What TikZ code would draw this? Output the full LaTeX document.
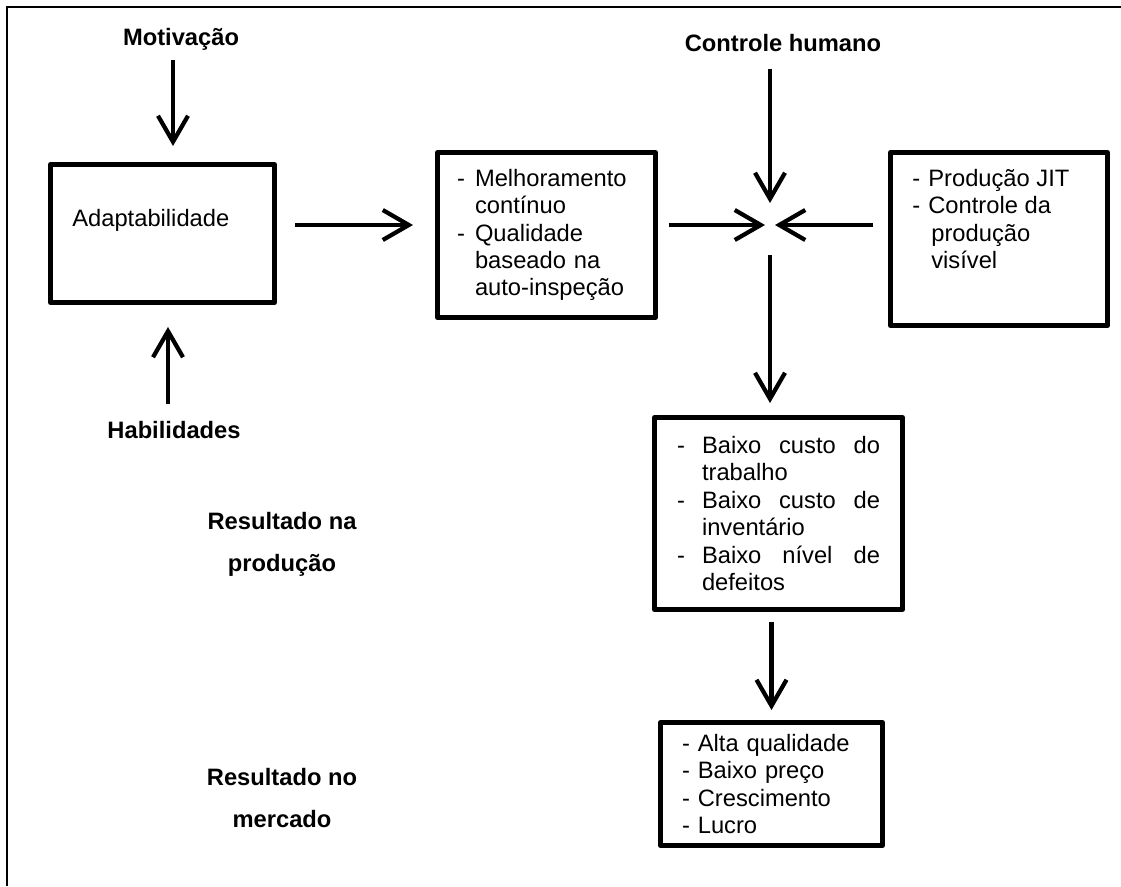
\documentclass[tikz,border=0pt]{standalone}
\usepackage{fontspec}
\setmainfont{Liberation Sans}
\usepackage{tikz}
\usetikzlibrary{arrows.meta,positioning,calc}

\begin{document}
\begin{tikzpicture}[x=0.02cm, y=-0.02cm,
        every node/.style={font=\fontsize{13.5}{15.6}\selectfont, inner sep=0pt},
        caixa/.style={draw, line width=0.1cm, line join=round, align=left},
        rotulo/.style={font=\fontsize{13.5}{15.6}\selectfont\bfseries, align=center},
        seta/.style={line width=0.085cm, -{Straight Barb[length=0.52cm,width=0.6cm]}}]

    \useasboundingbox (0,0) rectangle (1121,886);
    \draw[line width=0.05cm] (7,886) -- (7,7) -- (1121,7);

    \node [caixa] (adapt) at (162.5,233.5) [minimum width=4.48cm, minimum height=2.76cm] {};
    \node (adaptT) at (72,220) [anchor=west] {Adaptabilidade};

    \node [rotulo] (mot) at (181,39) {Motiva\c{c}\~ao};
    \node [rotulo] (hab) at (174,430) {Habilidades};
    \node [rotulo] (ctrl) at (783,43) {Controle humano};

    \node [caixa] (melhor) at (546.5,235) [minimum width=4.36cm, minimum height=3.3cm, text width=3.58cm]
        {\makebox[0.36cm][l]{-}Melhoramento\\
         \hspace*{0.36cm}cont\'inuo\\
         \makebox[0.36cm][l]{-}Qualidade\\
         \hspace*{0.36cm}baseado na\\
         \hspace*{0.36cm}auto-inspe\c{c}\~ao};

    \node [caixa] (jit) at (999,239) [minimum width=4.34cm, minimum height=3.46cm] {};
    \node (jitT) at (912,219) [anchor=west, align=left]
        {\makebox[0.32cm][l]{-}Produ\c{c}\~ao JIT\\
         \makebox[0.32cm][l]{-}Controle da\\
         \hspace*{0.38cm}produ\c{c}\~ao\\
         \hspace*{0.38cm}vis\'ivel};

    \coordinate (centro) at (770,225);

    \node [caixa] (prod) at (778.5,513.5) [minimum width=4.96cm, minimum height=3.84cm, text width=4.06cm]
        {\makebox[0.5cm][l]{-}Baixo\hfill custo\hfill do\\
         \hspace*{0.5cm}trabalho\\
         \makebox[0.5cm][l]{-}Baixo\hfill custo\hfill de\\
         \hspace*{0.5cm}invent\'ario\\
         \makebox[0.5cm][l]{-}Baixo\hfill n\'ivel\hfill de\\
         \hspace*{0.5cm}defeitos};

    \node [caixa] (merc) at (771.5,784) [minimum width=4.44cm, minimum height=2.46cm, text width=3.58cm]
        {- Alta qualidade\\
         - Baixo pre\c{c}o\\
         - Crescimento\\
         - Lucro};

    \node [rotulo] (resProd) at (282,544) {Resultado na\\[0.29cm]produ\c{c}\~ao};
    \node [rotulo] (resMerc) at (282,798) {Resultado no\\[0.29cm]mercado};

    \draw[seta, shorten <=0.2cm, shorten >=0.32cm] ([xshift=-0.16cm]mot.south) -- ([xshift=-0.16cm]mot.south |- adapt.north);
    \draw[seta, shorten <=0.33cm, shorten >=0.44cm] ([xshift=-0.12cm]hab.north) -- ([xshift=-0.12cm]hab.north |- adapt.south);
    \draw[seta, shorten <=0.36cm, shorten >=0.44cm] (adapt.east |- centro) -- (melhor.west |- centro);

    \draw[seta, shorten <=0.22cm, shorten >=0.1cm] (melhor.east |- centro) -- (centro);
    \draw[seta, shorten <=0.3cm, shorten >=0.1cm] (jit.west |- centro) -- (centro);
    \draw[seta, shorten <=0.33cm, shorten >=0.44cm] (ctrl.south -| centro) -- (centro);
    \draw[seta, shorten <=0.6cm, shorten >=0.24cm] (centro) -- (centro |- prod.north);

    \draw[seta, shorten <=0.2cm, shorten >=0.2cm] (merc.north |- prod.south) -- (merc.north);

\end{tikzpicture}
\end{document}
